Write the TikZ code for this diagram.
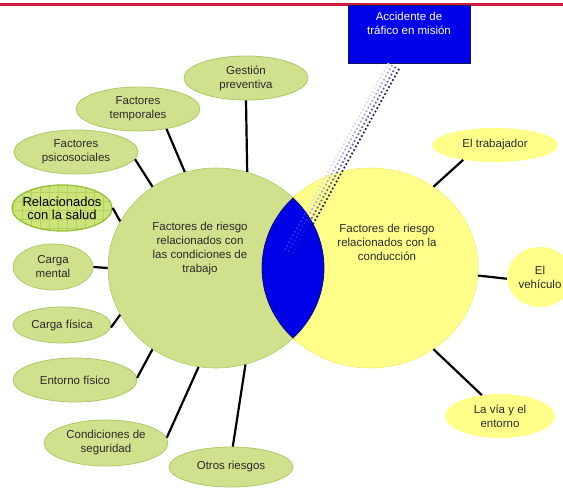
\documentclass[tikz,border=0pt]{standalone}
\usepackage{fontspec}
\setmainfont{Liberation Sans}
\usetikzlibrary{shapes.geometric}

\definecolor{verde}{HTML}{CFE18C}
\definecolor{verdeborde}{HTML}{AFC868}
\definecolor{verdesalud}{HTML}{CDE47C}
\definecolor{verdemalla}{HTML}{B4D05E}
\definecolor{verdesaludborde}{HTML}{96C036}
\definecolor{amarillo}{HTML}{FFFF8A}
\definecolor{amarilloborde}{HTML}{EDED78}
\definecolor{azul}{HTML}{0000E8}
\definecolor{azuloscuro}{HTML}{15156A}
\definecolor{rojo}{HTML}{D2193F}
\definecolor{texto}{HTML}{2A2A2A}
\definecolor{banda1}{HTML}{DADAF2}
\definecolor{banda2}{HTML}{A8A8DE}
\definecolor{banda3}{HTML}{5A5AB0}
\definecolor{banda4}{HTML}{1A1A58}

\begin{document}
\begin{tikzpicture}[x=1pt, y=-1pt,
  circulo/.style={ellipse, inner sep=0pt, minimum width=216pt, minimum height=200pt},
  burbuja/.style={ellipse, inner sep=0pt, align=center, text=texto,
    font=\fontsize{11.5}{14}\selectfont},
  verdeb/.style={burbuja, fill=verde, draw=verdeborde, line width=0.8pt},
  amarillob/.style={burbuja, fill=amarillo},
  textocentro/.style={align=center, text=texto, font=\fontsize{11.5}{14}\selectfont},
  enlace/.style={line width=2.2pt, black}]
  \useasboundingbox (0,0) rectangle (563,490);

  % Línea roja superior
  \fill[rojo] (0,3) rectangle (563,6);

  % Círculos principales
  \node[circulo, fill=verde, draw=verdeborde, line width=0.6pt] (trab) at (216,268) {};
  \node[circulo, fill=amarillo, draw=amarilloborde, line width=0.6pt] (cond) at (370,268) {};

  % Intersección
  \begin{scope}
    \clip (216,268) ellipse [x radius=108, y radius=100];
    \fill[azul] (370,268) ellipse [x radius=108, y radius=100];
  \end{scope}

  \node[textocentro] (trabtxt) at (200,249)
    {Factores de riesgo\\relacionados con\\las condiciones de\\trabajo};
  \node[textocentro] (condtxt) at (387,242)
    {Factores de riesgo\\relacionados con la\\conducción};

  % Accidente de tráfico
  \node[rectangle, fill=azul, draw=azuloscuro, line width=0.6pt,
    minimum width=122pt, minimum height=58pt] (acc) at (409,34) {};
  \node[align=center, text=white, font=\fontsize{11.5}{14}\selectfont] (acctxt) at (409,23)
    {Accidente de\\tráfico en misión};
  \coordinate (fin) at (289,255);

  % Banda punteada
  \foreach \d/\c in {-6/banda1,-2/banda2,2/banda3,6/banda4}
    \draw[draw=\c, line width=1.7pt, dash pattern=on 1.7pt off 2.3pt, shorten <=3pt,
      transform canvas={shift={(0.876*\d,0.482*\d)}}] (acc.-115) -- (fin);

  \begin{scope}
    \clip (216,268) ellipse [x radius=108, y radius=100];
    \fill[azul, opacity=0.75] (370,268) ellipse [x radius=108, y radius=100];
    \draw[azuloscuro, line width=0.8pt] (370,268) ellipse [x radius=108, y radius=100];
  \end{scope}
  \begin{scope}
    \clip (370,268) ellipse [x radius=108, y radius=100];
    \draw[azuloscuro, line width=0.8pt] (216,268) ellipse [x radius=108, y radius=100];
  \end{scope}

  % Burbujas verdes
  \node[verdeb, minimum width=124pt, minimum height=44pt] (gest) at (246,78) {Gestión\\preventiva};
  \node[verdeb, minimum width=124pt, minimum height=44pt] (temp) at (138,109) {Factores\\temporales};
  \node[verdeb, minimum width=124pt, minimum height=44pt] (psico) at (76,152) {Factores\\psicosociales};
  \node[ellipse, inner ysep=0pt, inner xsep=-5pt, minimum width=100pt, minimum height=46pt,
    fill=verdesalud, draw=verdesaludborde, line width=1.3pt, align=center,
    font=\fontsize{13}{13}\selectfont,
    path picture={\draw[verdemalla, line width=0.5pt, step=9pt]
      (path picture bounding box.south west) grid (path picture bounding box.north east);}]
    (salud) at (62,208) {Relacionados\\con la salud};
  \node[verdeb, minimum width=80pt, minimum height=46pt] (mental) at (53,267) {Carga\\mental};
  \node[verdeb, minimum width=98pt, minimum height=36pt] (fisica) at (62,325) {Carga física};
  \node[verdeb, minimum width=124pt, minimum height=44pt] (entorno) at (75,380) {Entorno físico};
  \node[verdeb, minimum width=124pt, minimum height=46pt] (seg) at (106,443) {Condiciones de\\seguridad};
  \node[verdeb, minimum width=124pt, minimum height=40pt] (otros) at (231,467) {Otros riesgos};

  % Burbujas amarillas
  \node[amarillob, minimum width=126pt, minimum height=34pt] (trabaj) at (495,145) {El trabajador};
  \node[amarillob, minimum width=66pt, minimum height=60pt] (veh) at (540,277) {El\\vehículo};
  \node[amarillob, minimum width=110pt, minimum height=44pt] (via) at (500,416) {La vía y el\\entorno};

  % Enlaces
  \draw[enlace] (gest.south) -- (trab.72);
  \draw[enlace] (temp.-35) -- (trab.108);
  \draw[enlace] (psico.-7) -- (trab.128);
  \draw[enlace] (salud.east) -- (trab.154);
  \draw[enlace] (mental.east) -- (trab.west);
  \draw[enlace] (fisica.-3) -- (trab.206);
  \draw[enlace] (entorno.2) -- (trab.232);
  \draw[enlace] (seg.5) -- (trab.260);
  \draw[enlace] (otros.85) -- (trab.287);
  \draw[enlace] (trabaj.205) -- (cond.52);
  \draw[enlace] (veh.183) -- (cond.-4);
  \draw[enlace] (via.131) -- (cond.-52);
\end{tikzpicture}
\end{document}
